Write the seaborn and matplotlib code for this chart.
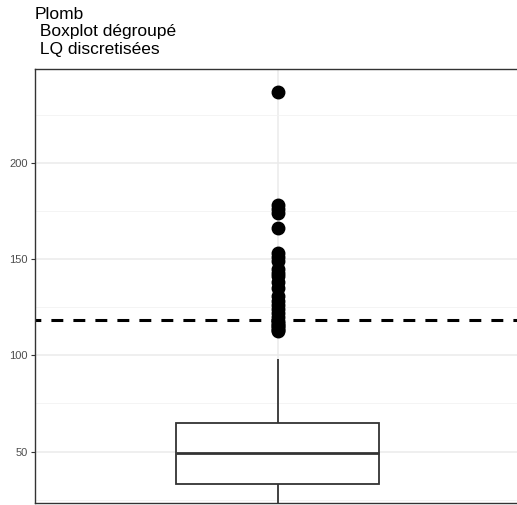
import numpy as np
import matplotlib
matplotlib.use("Agg")
import matplotlib.pyplot as plt
import seaborn as sns
from matplotlib.ticker import MultipleLocator

# values (body of the distribution, with counts)
body_values = [12, 25, 33.4, 42, 49.5, 57, 64.8, 80, 98]
body_counts = [20, 25, 10, 40, 10, 40, 10, 15, 4]
# points above the upper whisker
outliers = [112.5, 113, 114, 115, 116, 117, 118, 120, 122, 124, 126, 128, 131,
            135, 138, 141, 143, 145, 149, 151, 153, 166, 174, 176, 178, 237]
lq_value = 118.4
y_ticks = [50, 100, 150, 200]
title = "Plomb\n Boxplot dégroupé\n LQ discretisées"

plomb = np.concatenate([np.repeat(body_values, body_counts), outliers])

sns.set_theme(style="white")
plt.rcParams['font.family'] = ['Liberation Sans', 'DejaVu Sans']

fig = plt.figure(figsize=(5.17, 5.05), dpi=100)
ax = fig.add_axes([35 / 517, 2 / 505, 485 / 517, 434 / 505])

sns.boxplot(y=plomb, ax=ax, width=0.5, color="white", linecolor="#333333",
            linewidth=1.3, showcaps=False,
            flierprops=dict(marker="o", markersize=9, markerfacecolor="black",
                            markeredgecolor="black"),
            medianprops=dict(linewidth=2.0, color="#333333"))

ax.axhline(lq_value, color="black", linewidth=2.2, linestyle=(2, (3.9, 3.3)),
           zorder=1)

ax.set_xlim(-0.6, 0.6)
ax.set_ylim(23.3, 248.7)
ax.set_yticks(y_ticks)
ax.yaxis.set_minor_locator(MultipleLocator(25))
ax.set_xticks([0])
ax.grid(True, which="major", color="#EBEBEB", linewidth=1.1, zorder=0)
ax.grid(True, which="minor", axis="y", color="#F2F2F2", linewidth=0.6, zorder=0)
ax.set_axisbelow(True)

ax.tick_params(axis="y", which="major", labelsize=8, labelcolor="#4D4D4D",
               color="#333333", length=3, width=0.8, left=True, pad=2)
ax.tick_params(axis="y", which="minor", length=0)
ax.tick_params(axis="x", bottom=False, labelbottom=False)
ax.set_xlabel("")
ax.set_ylabel("")
for s in ax.spines.values():
    s.set_color("#333333")
    s.set_linewidth(1.0)
    s.set_visible(True)

fig.text(35 / 517, 1 - 7 / 505, title, ha="left", va="top", fontsize=12.5,
         color="black", linespacing=1.2)

fig.savefig("out.png", dpi=100)
